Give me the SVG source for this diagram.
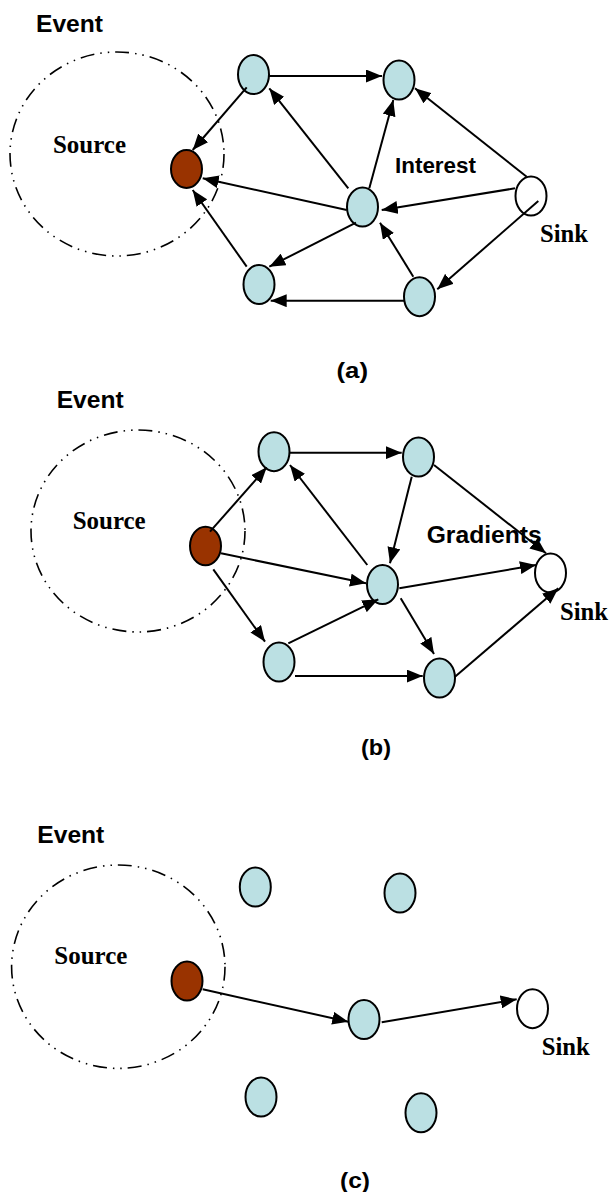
<svg xmlns="http://www.w3.org/2000/svg" width="611" height="1192" viewBox="0 0 611 1192">
<style>
.bg{fill:#ffffff}
.node{fill:#bbe0e3;stroke:#000;stroke-width:2}
.src{fill:#993300;stroke:#000;stroke-width:2}
.sink{fill:#ffffff;stroke:#000;stroke-width:2}
.area{fill:none;stroke:#000;stroke-width:1.6;stroke-dasharray:14 6 1.5 6 1.5 6}
.edge{stroke:#000;stroke-width:2;fill:none}
.sans{font-family:"Liberation Sans",Arial,sans-serif;font-weight:bold;fill:#000}
.serif{font-family:"Liberation Serif","Times New Roman",serif;font-weight:bold;fill:#000}
</style>
<defs>
<marker id="arr" markerUnits="userSpaceOnUse" markerWidth="16" markerHeight="13" refX="16" refY="6.5" orient="auto">
<path d="M0,0 L16,6.5 L0,13 z" fill="#000"/>
</marker>
</defs>
<rect class="bg" x="0" y="0" width="611" height="1192"/>

<!-- Panel (a) -->
<g id="panel-a">
<text class="sans" x="36" y="31.5" font-size="23.5" textLength="67" lengthAdjust="spacingAndGlyphs">Event</text>
<g id="a-event"><ellipse class="area" cx="117" cy="154" rx="107" ry="102"/><text class="serif" x="53" y="152.5" font-size="25" textLength="73" lengthAdjust="spacingAndGlyphs">Source</text></g>
<g id="a-source"><ellipse class="src" cx="186.5" cy="169" rx="15.5" ry="19"/></g>
<g id="a-n1"><ellipse class="node" cx="253.5" cy="74.5" rx="15.5" ry="19.5"/></g>
<g id="a-n2"><ellipse class="node" cx="399" cy="80" rx="15.5" ry="19.5"/></g>
<g id="a-n3"><ellipse class="node" cx="362.5" cy="207" rx="15.5" ry="19.5"/></g>
<g id="a-n5"><ellipse class="node" cx="419.5" cy="296.7" rx="15.5" ry="19.5"/></g>
<g id="a-n6"><ellipse class="node" cx="259" cy="284.5" rx="15.5" ry="19.5"/></g>
<g id="a-sink"><ellipse class="sink" cx="531" cy="196" rx="15.5" ry="19.5"/><text class="serif" x="540" y="241.7" font-size="25" textLength="48" lengthAdjust="spacingAndGlyphs">Sink</text></g>
<text class="sans" x="395" y="173.3" font-size="22" textLength="81" lengthAdjust="spacingAndGlyphs">Interest</text>
<text class="sans" x="336.5" y="378" font-size="22" textLength="31.5" lengthAdjust="spacingAndGlyphs">(a)</text>
<g id="a-edges">
<line class="edge" marker-end="url(#arr)" x1="269" y1="76" x2="382" y2="76"/>
<line class="edge" marker-end="url(#arr)" x1="246.7" y1="87.3" x2="192.7" y2="150"/>
<line class="edge" marker-end="url(#arr)" x1="348.3" y1="188.3" x2="269.3" y2="88.3"/>
<line class="edge" marker-end="url(#arr)" x1="346.7" y1="210" x2="202.7" y2="178.3"/>
<line class="edge" marker-end="url(#arr)" x1="369.3" y1="188.3" x2="393.3" y2="100"/>
<line class="edge" marker-end="url(#arr)" x1="526.7" y1="176.7" x2="415" y2="88.3"/>
<line class="edge" marker-end="url(#arr)" x1="515" y1="188.3" x2="381.7" y2="210"/>
<line class="edge" marker-end="url(#arr)" x1="538.3" y1="201" x2="437.3" y2="289.3"/>
<line class="edge" marker-end="url(#arr)" x1="413.3" y1="276.7" x2="380" y2="222.7"/>
<line class="edge" marker-end="url(#arr)" x1="404" y1="300.7" x2="270.7" y2="300.7"/>
<line class="edge" marker-end="url(#arr)" x1="356" y1="222.7" x2="269.3" y2="266.7"/>
<line class="edge" marker-end="url(#arr)" x1="246.7" y1="266.7" x2="192.7" y2="190"/>
</g>
</g>

<!-- Panel (b) -->
<g id="panel-b">
<text class="sans" x="56.7" y="408.3" font-size="23.5" textLength="67" lengthAdjust="spacingAndGlyphs">Event</text>
<g id="b-event"><ellipse class="area" cx="138" cy="531" rx="107" ry="101"/><text class="serif" x="72.7" y="529.3" font-size="25" textLength="73" lengthAdjust="spacingAndGlyphs">Source</text></g>
<g id="b-source"><ellipse class="src" cx="205.5" cy="546" rx="15.5" ry="19.3"/></g>
<g id="b-n1"><ellipse class="node" cx="274" cy="451.7" rx="15.5" ry="19.5"/></g>
<g id="b-n2"><ellipse class="node" cx="418.5" cy="457" rx="15.5" ry="19.5"/></g>
<g id="b-n3"><ellipse class="node" cx="382.5" cy="584.5" rx="15.5" ry="19.5"/></g>
<g id="b-n5"><ellipse class="node" cx="439.5" cy="678" rx="15.5" ry="19.5"/></g>
<g id="b-n6"><ellipse class="node" cx="279" cy="662" rx="15.5" ry="19.5"/></g>
<g id="b-sink"><ellipse class="sink" cx="550.5" cy="573" rx="15.5" ry="19.5"/><text class="serif" x="560" y="620" font-size="25" textLength="48" lengthAdjust="spacingAndGlyphs">Sink</text></g>
<text class="sans" x="426.7" y="543.3" font-size="24.5" textLength="115" lengthAdjust="spacingAndGlyphs">Gradients</text>
<text class="sans" x="361" y="755" font-size="22" textLength="30" lengthAdjust="spacingAndGlyphs">(b)</text>
<g id="b-edges">
<line class="edge" marker-end="url(#arr)" x1="290" y1="452.7" x2="401.7" y2="452.7"/>
<line class="edge" marker-end="url(#arr)" x1="210" y1="531.7" x2="266.7" y2="467.3"/>
<line class="edge" marker-end="url(#arr)" x1="221" y1="553.3" x2="366" y2="583.3"/>
<line class="edge" marker-end="url(#arr)" x1="213.3" y1="569.3" x2="265" y2="641.7"/>
<line class="edge" marker-end="url(#arr)" x1="367.3" y1="565" x2="290" y2="465"/>
<line class="edge" marker-end="url(#arr)" x1="411.7" y1="476.7" x2="390" y2="563.3"/>
<line class="edge" marker-end="url(#arr)" x1="434" y1="465" x2="546" y2="553.3"/>
<line class="edge" marker-end="url(#arr)" x1="399.3" y1="588.3" x2="536" y2="565"/>
<line class="edge" marker-end="url(#arr)" x1="400.7" y1="598.3" x2="434" y2="654"/>
<line class="edge" marker-end="url(#arr)" x1="288.3" y1="643.3" x2="378.3" y2="599.3"/>
<line class="edge" marker-end="url(#arr)" x1="295" y1="676" x2="422.7" y2="676"/>
<line class="edge" marker-end="url(#arr)" x1="455" y1="676.7" x2="558.3" y2="588.3"/>
</g>
</g>

<!-- Panel (c) -->
<g id="panel-c">
<text class="sans" x="37.3" y="843.3" font-size="23.5" textLength="67" lengthAdjust="spacingAndGlyphs">Event</text>
<g id="c-event"><ellipse class="area" cx="118.3" cy="966.7" rx="106.7" ry="101.7"/><text class="serif" x="54.3" y="964.3" font-size="25" textLength="73" lengthAdjust="spacingAndGlyphs">Source</text></g>
<g id="c-source"><ellipse class="src" cx="187" cy="981" rx="15.5" ry="19.5"/></g>
<g id="c-n1"><ellipse class="node" cx="255.3" cy="887" rx="15.5" ry="19.5"/></g>
<g id="c-n2"><ellipse class="node" cx="400" cy="893" rx="15.5" ry="19.5"/></g>
<g id="c-n3"><ellipse class="node" cx="364" cy="1019.5" rx="15.5" ry="19.5"/></g>
<g id="c-n5"><ellipse class="node" cx="421" cy="1112.8" rx="15.5" ry="19.5"/></g>
<g id="c-n6"><ellipse class="node" cx="261" cy="1097" rx="15.5" ry="19.5"/></g>
<g id="c-sink"><ellipse class="sink" cx="532.5" cy="1008.7" rx="15.5" ry="19.5"/><text class="serif" x="541.7" y="1055" font-size="25" textLength="48" lengthAdjust="spacingAndGlyphs">Sink</text></g>
<text class="sans" x="340" y="1188" font-size="22" textLength="30" lengthAdjust="spacingAndGlyphs">(c)</text>
<g id="c-edges">
<line class="edge" marker-end="url(#arr)" x1="202.7" y1="989.3" x2="348.3" y2="1021.7"/>
<line class="edge" marker-end="url(#arr)" x1="381.7" y1="1022.3" x2="516.7" y2="999.3"/>
</g>
</g>
</svg>
